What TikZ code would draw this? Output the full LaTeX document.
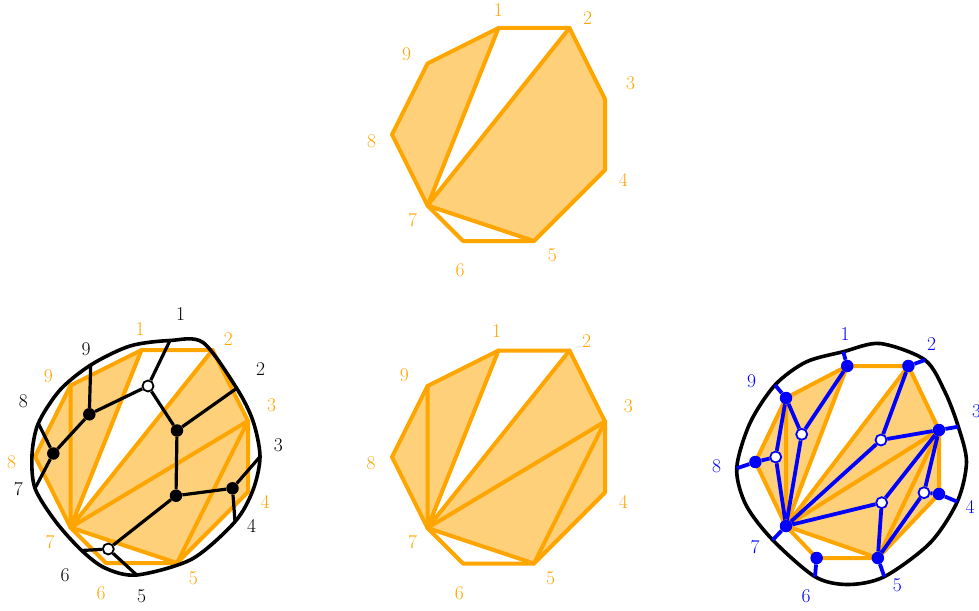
\documentclass[tikz,border=0pt]{standalone}
\usepackage{fontspec}
\definecolor{ora}{HTML}{FFA500}
\newcommand{\mknonagon}[1]{%
  \coordinate (#1-1) at (2,5);
  \coordinate (#1-2) at (4,5);
  \coordinate (#1-3) at (5,3);
  \coordinate (#1-4) at (5,1);
  \coordinate (#1-5) at (3,-1);
  \coordinate (#1-6) at (1,-1);
  \coordinate (#1-7) at (0,0);
  \coordinate (#1-8) at (-1,2);
  \coordinate (#1-9) at (0,4);}
\newcommand{\fillnonagon}[1]{%
  \fill[ofill] (#1-7) -- (#1-8) -- (#1-9) -- (#1-1) -- cycle;
  \fill[ofill] (#1-7) -- (#1-2) -- (#1-3) -- (#1-4) -- (#1-5) -- cycle;
  \draw[oedge] (#1-1) -- (#1-2) -- (#1-3) -- (#1-4) -- (#1-5) -- (#1-6) -- (#1-7) -- (#1-8) -- (#1-9) -- cycle;}
\tikzset{
  ofill/.style={fill=ora!52},
  oedge/.style={draw=ora, line width=4pt, line join=round, line cap=round},
  lab/.style={inner sep=0pt, font=\fontsize{19.5}{22}\selectfont},
  olab/.style={lab, text=ora},
  klab/.style={lab, text=black},
  blab/.style={lab, text=blue},
  blob/.style={draw=black, line width=3.6pt},
  kedge/.style={draw=black, line width=3.2pt},
  bedge/.style={draw=blue, line width=3.8pt},
  kdot/.style={circle, fill=black, inner sep=0pt, minimum size=12.5pt},
  kwhite/.style={circle, draw=black, fill=white, line width=1.8pt, inner sep=0pt, minimum size=11pt},
  bdot/.style={circle, fill=blue, inner sep=0pt, minimum size=12.5pt},
  bwhite/.style={circle, draw=blue, fill=white, line width=1.8pt, inner sep=0pt, minimum size=11pt},
}
\begin{document}
\begin{tikzpicture}[x=1pt, y=-1pt]
\useasboundingbox (0,0) rectangle (979,610);
% ---------- vertex grids
\begin{scope}[shift={(427.5,205.5)}, x=35.5pt, y=35.5pt]\mknonagon{T}\end{scope}
\begin{scope}[shift={(427.5,528)}, x=35.5pt, y=35.5pt]\mknonagon{M}\end{scope}
\begin{scope}[shift={(70.5,527.5)}, x=35.5pt, y=35.5pt]\mknonagon{L}\end{scope}
\begin{scope}[shift={(786,526)}, x=30.6pt, y=32pt]\mknonagon{R}\end{scope}

% ---------- top figure
\fillnonagon{T}
\draw[oedge] (T-7) -- (T-1) (T-7) -- (T-2) (T-7) -- (T-5);
\node[olab] (t1) at (498.3,10) {1};
\node[olab] (t2) at (587.7,18.3) {2};
\node[olab] (t3) at (630.7,83.3) {3};
\node[olab] (t4) at (623.3,180) {4};
\node[olab] (t5) at (552.3,255) {5};
\node[olab] (t6) at (460,270.7) {6};
\node[olab] (t7) at (412.7,220) {7};
\node[olab] (t8) at (371.7,141.7) {8};
\node[olab] (t9) at (406.7,54.3) {9};

% ---------- middle bottom figure
\fillnonagon{M}
\draw[oedge] (M-7) -- (M-9) (M-7) -- (M-1) (M-7) -- (M-2) (M-7) -- (M-3) (M-7) -- (M-5) (M-3) -- (M-5);
\node[olab] (m1) at (496.7,330.7) {1};
\node[olab] (m2) at (586.7,340.7) {2};
\node[olab] (m3) at (628.3,406.7) {3};
\node[olab] (m4) at (623.3,501.7) {4};
\node[olab] (m5) at (550.7,578.3) {5};
\node[olab] (m6) at (459.3,593.3) {6};
\node[olab] (m7) at (412.7,542.3) {7};
\node[olab] (m8) at (371,463.3) {8};
\node[olab] (m9) at (404.3,375.7) {9};

% ---------- left figure
\fillnonagon{L}
\draw[oedge] (L-7) -- (L-9) (L-7) -- (L-1) (L-7) -- (L-2) (L-7) -- (L-3) (L-7) -- (L-5) (L-3) -- (L-5);
\node[olab] (lo1) at (140,329.3) {1};
\node[olab] (lo2) at (228.3,339.3) {2};
\node[olab] (lo3) at (271.7,405) {3};
\node[olab] (lo4) at (265,501.7) {4};
\node[olab] (lo5) at (193.3,578.3) {5};
\node[olab] (lo6) at (101,593.3) {6};
\node[olab] (lo7) at (50,542.3) {7};
\node[olab] (lo8) at (11.7,462.3) {8};
\node[olab] (lo9) at (48.3,376) {9};
\coordinate (e1) at (170,340.5);
\coordinate (e2) at (236.7,388.3);
\coordinate (e3) at (260,456.7);
\coordinate (e4) at (235,521.7);
\coordinate (e5) at (136.7,575);
\coordinate (e6) at (81.7,550.5);
\coordinate (e7) at (35,488.3);
\coordinate (e8) at (38.3,423.3);
\coordinate (e9) at (90.7,365);
\draw[blob] plot[smooth cycle] coordinates {(e1) (203,342.5) (e2) (253,421) (e3) (253,490) (e4) (192,559) (e5) (105,568) (e6) (56,522) (e7) (32,455) (e8) (60,390) (e9) (130,346)};
\node[kdot] (B1) at (89.3,414.3) {};
\node[kdot] (B2) at (53.3,453.5) {};
\node[kdot] (B3) at (177,430.5) {};
\node[kdot] (B4) at (176,495.7) {};
\node[kdot] (B5) at (232.5,488.3) {};
\node[kwhite] (W1) at (148,386) {};
\node[kwhite] (W2) at (108.3,549) {};
\draw[kedge] (W1) -- (e1) (W1) -- (B1) (W1) -- (B3)
  (B1) -- (e9) (B1) -- (B2) (B2) -- (e8) (B2) -- (e7)
  (B3) -- (e2) (B3) -- (B4) (B4) -- (B5) (B4) -- (W2)
  (B5) -- (e3) (B5) -- (e4) (W2) -- (e6) (W2) -- (e5);
\node[klab] (lk1) at (180.7,314) {1};
\node[klab] (lk2) at (260.7,369) {2};
\node[klab] (lk3) at (278.3,445) {3};
\node[klab] (lk4) at (251.7,526) {4};
\node[klab] (lk5) at (141.7,596) {5};
\node[klab] (lk6) at (65,575) {6};
\node[klab] (lk7) at (18.3,489) {7};
\node[klab] (lk8) at (23.3,401.7) {8};
\node[klab] (lk9) at (86,349.3) {9};

% ---------- right figure
\fillnonagon{R}
\draw[oedge] (R-7) -- (R-9) (R-7) -- (R-1) (R-7) -- (R-2) (R-7) -- (R-3) (R-7) -- (R-5) (R-3) -- (R-5);
\coordinate (f1) at (843.3,351.7);
\coordinate (f2) at (925,360);
\coordinate (f3) at (958.3,426.7);
\coordinate (f4) at (957.3,501.7);
\coordinate (f5) at (884.3,576.7);
\coordinate (f6) at (815,576.7);
\coordinate (f7) at (772.7,540);
\coordinate (f8) at (736.7,468.3);
\coordinate (f9) at (775,385);
\draw[blob] plot[smooth cycle] coordinates {(f1) (880,343.5) (f2) (945,392) (f3) (966.5,462) (f4) (930,543) (f5) (848,584.5) (f6) (f7) (746,505) (f8) (750,423) (f9) (806,362)};
\node[bdot] (D1) at (R-1) {};
\node[bdot] (D2) at (R-2) {};
\node[bdot] (D3) at (R-3) {};
\node[bdot] (D4) at (R-4) {};
\node[bdot] (D5) at (R-5) {};
\node[bdot] (D6) at (R-6) {};
\node[bdot] (D7) at (R-7) {};
\node[bdot] (D8) at (R-8) {};
\node[bdot] (D9) at (R-9) {};
\node[bwhite] (V1) at (801.7,434.3) {};
\node[bwhite] (V2) at (775.7,457) {};
\node[bwhite] (V3) at (881,440) {};
\node[bwhite] (V4) at (881.7,502.7) {};
\node[bwhite] (V5) at (924,492.7) {};
\draw[bedge] (D1) -- (f1) (D2) -- (f2) (D3) -- (f3) (D4) -- (f4) (D5) -- (f5)
  (D6) -- (f6) (D7) -- (f7) (D8) -- (f8) (D9) -- (f9)
  (V1) -- (D9) (V1) -- (D1) (V1) -- (D7)
  (V2) -- (D8) (V2) -- (D9) (V2) -- (D7)
  (V3) -- (D2) (V3) -- (D3) (V3) -- (D7)
  (V4) -- (D7) (V4) -- (D3) (V4) -- (D5)
  (V5) -- (D3) (V5) -- (D4) (V5) -- (D5);
\node[blab] (r1) at (845,334) {1};
\node[blab] (r2) at (931.7,344) {2};
\node[blab] (r3) at (976.5,411.7) {3};
\node[blab] (r4) at (970,506.7) {4};
\node[blab] (r5) at (897.3,585) {5};
\node[blab] (r6) at (806,596.7) {6};
\node[blab] (r7) at (755,547.3) {7};
\node[blab] (r8) at (716.7,466.7) {8};
\node[blab] (r9) at (751.7,381.7) {9};
\end{tikzpicture}
\end{document}
